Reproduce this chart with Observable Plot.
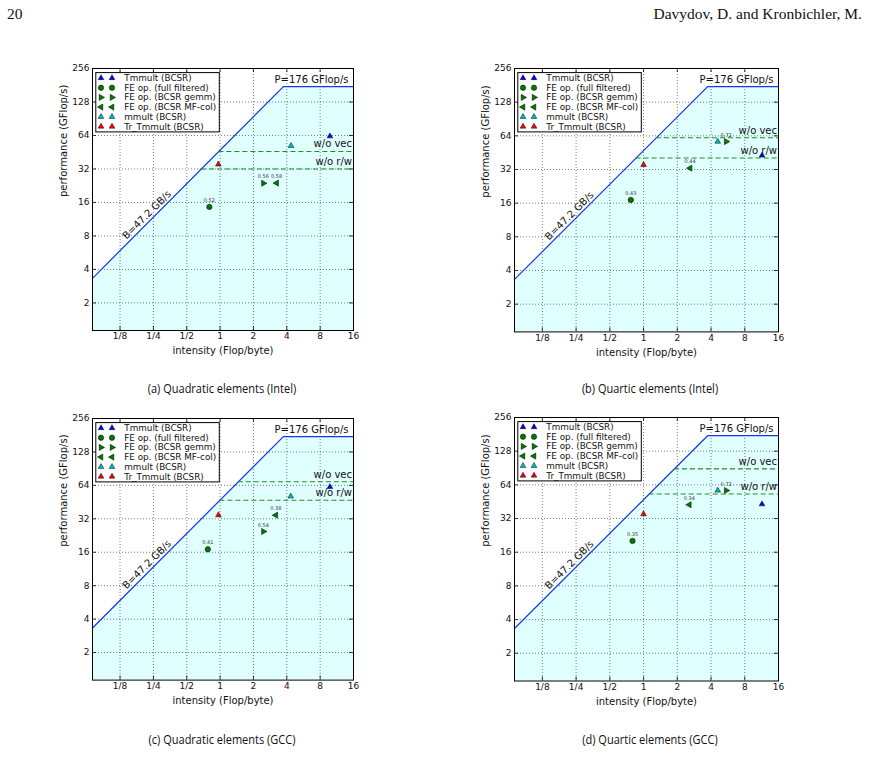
<!DOCTYPE html>
<html>
<head>
<meta charset="utf-8">
<script src="https://cdn.jsdelivr.net/npm/d3@7"></script>
<script src="https://cdn.jsdelivr.net/npm/@observablehq/plot@0.6"></script>
<style>
  body { margin: 0; background: #fff; width: 869px; height: 775px; position: relative; overflow: hidden; }
  .hdr { position: absolute; top: 5px; font-family: "Liberation Serif", serif; font-size: 15.5px; color: #111; }
  .cap { position: absolute; transform: translateX(-50%) scaleX(0.88); white-space: nowrap;
         font-family: "Open Sans", "Noto Sans", sans-serif; font-size: 12.5px; color: #111; }
  .panel { position: absolute; }
</style>
</head>
<body>
<div class="hdr" style="left:7px">20</div>
<div class="hdr" style="right:7px">Davydov, D. and Kronbichler, M.</div>
<div id="root"></div>
<script>
// Kernels shown in every roofline panel (legend order)
const seriesNames = [
  "Tmmult (BCSR)",
  "FE op. (full filtered)",
  "FE op. (BCSR gemm)",
  "FE op. (BCSR MF-col)",
  "mmult (BCSR)",
  "Tr_Tmmult (BCSR)"
];

// Machine limits
const bandwidth = 47.2;   // GB/s
const peak = 176;         // GFlop/s

// Axis ticks
const xTicks = [1/8, 1/4, 1/2, 1, 2, 4, 8, 16];
const xTickLabels = ["1/8", "1/4", "1/2", "1", "2", "4", "8", "16"];
const yTicks = [2, 4, 8, 16, 32, 64, 128, 256];

// Ceilings below the peak
const ceilingNames = ["w/o vec", "w/o r/w"];

// (a) Quadratic elements (Intel)
const intensityA   = [9.8, 0.80, 2.46, 3.24, 4.37, 0.965];
const performanceA = [63, 14.6, 23.8, 23.9, 51.7, 35.2];
const efficiencyA  = [null, 0.52, 0.56, 0.58, null, null];
const ceilingsA    = [46, 32];

// (b) Quartic elements (Intel)
const intensityB   = [11.4, 0.77, 5.46, 2.6, 4.59, 1.0];
const performanceB = [42.7, 17.1, 56.9, 32.9, 56.9, 35.2];
const efficiencyB  = [null, 0.43, 0.72, 0.44, null, null];
const ceilingsB    = [61.5, 40.5];

// (c) Quadratic elements (GCC)
const intensityC   = [9.8, 0.775, 2.46, 3.18, 4.34, 0.965];
const performanceC = [62, 17.0, 24.6, 34.5, 51, 34.6];
const efficiencyC  = [null, 0.41, 0.54, 0.38, null, null];
const ceilingsC    = [69, 47];

// (d) Quartic elements (GCC)
const intensityD   = [11.4, 0.797, 5.46, 2.56, 4.59, 1.0];
const performanceD = [43, 20.2, 57, 42.5, 57, 35.1];
const efficiencyD  = [null, 0.35, 0.72, 0.34, null, null];
const ceilingsD    = [89, 53];

const captions = [
  "(a) Quadratic elements (Intel)",
  "(b) Quartic elements (Intel)",
  "(c) Quadratic elements (GCC)",
  "(d) Quartic elements (GCC)"
];

// ---- styling ----
const sqrt3 = Math.sqrt(3);
const triangleRight = {
  draw(ctx, size) {
    const y = -Math.sqrt(size / (sqrt3 * 3));
    ctx.moveTo(-2 * y, 0); ctx.lineTo(y, sqrt3 * y); ctx.lineTo(y, -sqrt3 * y); ctx.closePath();
  }
};
const triangleLeft = {
  draw(ctx, size) {
    const y = -Math.sqrt(size / (sqrt3 * 3));
    ctx.moveTo(2 * y, 0); ctx.lineTo(-y, sqrt3 * y); ctx.lineTo(-y, -sqrt3 * y); ctx.closePath();
  }
};
const seriesSymbol = [d3.symbolTriangle, d3.symbolCircle, triangleRight, triangleLeft, d3.symbolTriangle, d3.symbolTriangle];
const seriesColor = ["#0000ff", "#007a00", "#007a00", "#007a00", "#00bfbf", "#ff0000"];
const seriesR = [2.1, 2.7, 2.3, 2.3, 2.1, 2.1];

const xDomain = [0.0705, 16];
const yDomain = [1.13, 256];
const W = 360, H = 322, ML = 56, MT = 12;
const font = "DejaVu Sans";

const panels = [
  {left: 91.7,  top: 68.3,  w: 261, h: 262,   intensity: intensityA, performance: performanceA, efficiency: efficiencyA, ceilings: ceilingsA, cap: captions[0], capX: 222, capY: 380},
  {left: 514.3, top: 68.3,  w: 264, h: 263.4, intensity: intensityB, performance: performanceB, efficiency: efficiencyB, ceilings: ceilingsB, cap: captions[1], capX: 650, capY: 380},
  {left: 91.7,  top: 417.7, w: 261, h: 261.6, intensity: intensityC, performance: performanceC, efficiency: efficiencyC, ceilings: ceilingsC, cap: captions[2], capX: 222, capY: 731},
  {left: 514.3, top: 416.7, w: 264, h: 263.5, intensity: intensityD, performance: performanceD, efficiency: efficiencyD, ceilings: ceilingsD, cap: captions[3], capX: 650, capY: 731}
];

function drawPanel(p) {
  const MR = W - ML - p.w, MB = H - MT - p.h;
  const ppdX = p.w / Math.log2(xDomain[1] / xDomain[0]);
  const ppdY = p.h / Math.log2(yDomain[1] / yDomain[0]);
  const fx = 2 ** (4 / ppdX), fy = 2 ** (4 / ppdY);   // 4px inward tick marks

  const roof = [xDomain[0], peak / bandwidth, xDomain[1]].map(x => ({x, y: Math.min(peak, bandwidth * x)}));
  const pts = seriesNames.map((name, i) => ({name, i, x: p.intensity[i], y: p.performance[i], eff: p.efficiency[i]}));
  const ceil = ceilingNames.map((name, i) => ({name, y: p.ceilings[i], x1: p.ceilings[i] / bandwidth, x2: xDomain[1]}));
  const bX = 0.218;
  const bLabel = [{x: bX, y: bandwidth * bX * 2 ** (8.8 / ppdY)}];

  const grid = {stroke: "#000", strokeWidth: 0.6, strokeDasharray: "1,2", strokeOpacity: 0.85};
  const tick = {stroke: "#000", strokeWidth: 0.8};

  const marks = [
    Plot.areaY(roof, {x: "x", y1: yDomain[0], y2: "y", fill: "#e0ffff"}),
    Plot.ruleX(xTicks, {x: d => d, ...grid}),
    Plot.ruleY(yTicks, {y: d => d, ...grid}),
    Plot.ruleX(xTicks, {x: d => d, y1: yDomain[0], y2: yDomain[0] * fy, ...tick}),
    Plot.ruleX(xTicks, {x: d => d, y1: yDomain[1] / fy, y2: yDomain[1], ...tick}),
    Plot.ruleY(yTicks, {y: d => d, x1: xDomain[0], x2: xDomain[0] * fx, ...tick}),
    Plot.ruleY(yTicks, {y: d => d, x1: xDomain[1] / fx, x2: xDomain[1], ...tick}),
    Plot.line(roof, {x: "x", y: "y", stroke: "#1a33ee", strokeWidth: 1.2}),
    Plot.ruleY(ceil, {y: "y", x1: "x1", x2: "x2", stroke: "#1f8f1f", strokeWidth: 1.1, strokeDasharray: "5,3"}),
    Plot.text(ceil, {x: "x2", y: "y", text: "name", textAnchor: "end", lineAnchor: "bottom", dx: -1.5, dy: -4, fontSize: 10, fill: "#111"}),
    Plot.text([{x: xDomain[1], y: peak}], {x: "x", y: "y", text: () => `P=${peak} GFlop/s`, textAnchor: "end", lineAnchor: "bottom", dx: -5, dy: -3.5, fontSize: 10, fill: "#111"}),
    Plot.text(bLabel, {x: "x", y: "y", text: () => `B=${bandwidth} GB/s`, rotate: -45, fontSize: 10, fill: "#111"}),
    ...seriesNames.map((name, i) => Plot.dot(pts.filter(d => d.i === i), {
      x: "x", y: "y", symbol: seriesSymbol[i], r: seriesR[i], fill: seriesColor[i], stroke: "#000", strokeWidth: 0.5
    })),
    Plot.text(pts.filter(d => d.eff != null), {x: "x", y: "y", text: d => d.eff.toFixed(2), dy: -6.5, fontSize: 5, fill: "#333"}),
    Plot.frame({stroke: "#000", strokeWidth: 1}),
    Plot.text(xTicks, {x: d => d, text: (d, i) => xTickLabels[i], frameAnchor: "bottom", lineAnchor: "top", dy: 2.5, fontSize: 9, fill: "#111"}),
    Plot.text(yTicks, {y: d => d, text: d => String(d), frameAnchor: "left", textAnchor: "end", dx: -3, fontSize: 9, fill: "#111"}),
    Plot.text(["intensity (Flop/byte)"], {text: d => d, frameAnchor: "bottom", lineAnchor: "top", dy: 16.5, fontSize: 10, fill: "#111"}),
    Plot.text(["performance (GFlop/s)"], {text: d => d, frameAnchor: "left", rotate: -90, dx: -28.4, dy: -2.5, fontSize: 10, fill: "#111"})
  ];

  const svg = Plot.plot({
    width: W, height: H,
    marginLeft: ML, marginTop: MT, marginRight: MR, marginBottom: MB,
    x: {type: "log", base: 2, domain: xDomain, axis: null},
    y: {type: "log", base: 2, domain: yDomain, axis: null},
    style: {fontFamily: font, background: "transparent", overflow: "visible"},
    marks
  });

  // legend box in the upper-left corner of the frame
  const g = d3.select(svg).append("g").attr("transform", `translate(${ML},${MT})`)
    .attr("font-family", font).attr("font-size", 8.8).attr("text-anchor", "start");
  g.append("rect").attr("x", 3.8).attr("y", 4.6).attr("width", 123.5).attr("height", 59.3)
    .attr("fill", "#fff").attr("stroke", "#000").attr("stroke-width", 1);
  seriesNames.forEach((name, i) => {
    const yy = 10 + i * 9.7;
    [9, 20].forEach(xx => {
      g.append("path")
        .attr("transform", `translate(${xx},${yy})`)
        .attr("d", d3.symbol(seriesSymbol[i], Math.PI * seriesR[i] ** 2)())
        .attr("fill", seriesColor[i]).attr("stroke", "#000").attr("stroke-width", 0.5);
    });
    g.append("text").attr("x", 32.3).attr("y", yy).attr("dy", "0.35em")
      .attr("text-anchor", "start").attr("fill", "#111").text(name);
  });

  svg.classList.add("panel");
  svg.style.left = (p.left - ML) + "px";
  svg.style.top = (p.top - MT) + "px";
  document.getElementById("root").appendChild(svg);

  const cap = document.createElement("div");
  cap.className = "cap";
  cap.style.left = p.capX + "px";
  cap.style.top = p.capY + "px";
  cap.textContent = p.cap;
  document.getElementById("root").appendChild(cap);
}

panels.forEach(drawPanel);
</script>
</body>
</html>
